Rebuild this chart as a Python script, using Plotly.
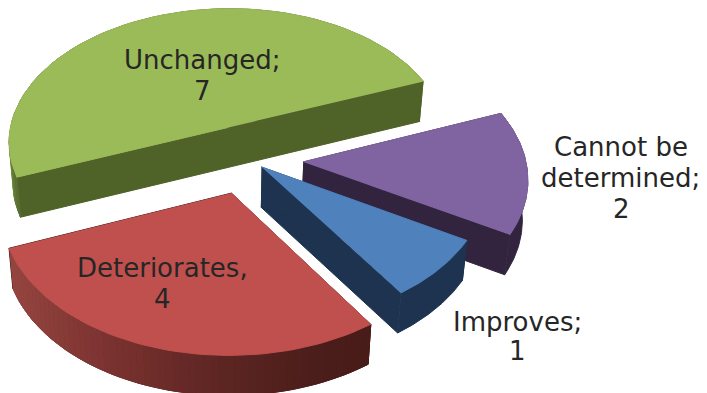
import numpy as np
import plotly.graph_objects as go

categories = ["Unchanged", "Deteriorates", "Improves", "Cannot be<br>determined"]
values = [7, 4, 1, 2]
separators = [";", ",", ";", ";"]
top_colors = ["#9BBB59", "#C0504D", "#4F81BD", "#8064A2"]
side_colors = ["#4F6228", "#4E1F1C", "#1D334F", "#32243F"]
explode = [0.2554, 0.2501, 0.0814, 0.2474]
label_pos = [((202, 60), (202, 91)), ((162, 268), (162, 299)), ((517, 322), (517, 351)),
             ((621, 147), (620, 178), (621, 209))]

# shading of the red slice's rim, left to right across the picture
rim_x = [10, 100, 200, 300, 370]
rim_r = [150, 125, 98, 78, 72]
rim_g = [70, 52, 40, 31, 28]
rim_b = [65, 50, 37, 28, 25]

# perspective view of the pie's top plane
U0, V0, A_X, S_X, B_Y, Q_Y, K_Y, L_X = 248.2434, 159.3798, 222.5766, -5.4099, 137.5314, 3.4246, 0.1052, 0.0037
DEPTH, XC, SC = 40, 220, 0.982
START = np.radians(20.0)

total = sum(values)
spans = [2*np.pi*v/total for v in values]
starts = [START + sum(spans[:i]) for i in range(len(values))]


def proj(X, Y):
    w = 1 + K_Y*Y + L_X*X
    return U0 + (A_X*X + S_X*Y)/w, V0 - (B_Y*Y + Q_Y*X)/w


def center(i):
    m = starts[i] + spans[i]/2
    return explode[i]*np.cos(m), explode[i]*np.sin(m)


def arc(i, n=60):
    t = np.linspace(starts[i], starts[i]+spans[i], n)
    cx, cy = center(i)
    return proj(cx+np.cos(t), cy+np.sin(t))


def lower(U, V):
    return XC+(np.asarray(U)-XC)*SC, np.asarray(V)+DEPTH


fig = go.Figure()


def poly(U, V, c):
    fig.add_trace(go.Scatter(x=list(U), y=list(V), mode="lines", fill="toself", fillcolor=c,
                             line=dict(color=c, width=1), hoverinfo="skip", showlegend=False))


for i in [0, 3, 2, 1]:
    U, V = arc(i)
    A = proj(*center(i))
    LU, LV = lower(U, V)
    if values[i]*2 == total:
        poly([U[0], U[-1], LU[-1], LU[0]], [V[0], V[-1], LV[-1], LV[0]], side_colors[i])
    else:
        for ex, ey in [(U[0], V[0]), (U[-1], V[-1])]:
            lx, ly = lower([A[0], ex], [A[1], ey])
            poly([A[0], ex, lx[1], lx[0]], [A[1], ey, ly[1], ly[0]], side_colors[i])
    poly(list(U)+list(LU[::-1]), list(V)+list(LV[::-1]), side_colors[i])
    if i == 1:
        for j in range(len(U)-1):
            xm = (U[j]+U[j+1])/2
            c = "rgb(%d,%d,%d)" % (np.interp(xm, rim_x, rim_r), np.interp(xm, rim_x, rim_g), np.interp(xm, rim_x, rim_b))
            poly([U[j], U[j+1], LU[j+1], LU[j]], [V[j], V[j+1], LV[j+1], LV[j]], c)
    if i == 0:
        for j in range(len(U)-9, len(U)-1):
            f = (len(U)-2-j)/7
            c = "rgb(%d,%d,%d)" % (90+45*f, 112+53*f, 50+25*f)
            poly([U[j], U[j+1], LU[j+1], LU[j]], [V[j], V[j+1], LV[j+1], LV[j]], c)
    poly(list(U)+[A[0]], list(V)+[A[1]], top_colors[i])

for cat, val, sep, pos in zip(categories, values, separators, label_pos):
    lines = (cat+sep).split("<br>") + [str(val)]
    for line, (x, y) in zip(lines, pos):
        fig.add_annotation(x=x, y=y, text=line, showarrow=False,
                           font=dict(family="DejaVu Sans", size=26, color="#262626"))

fig.update_layout(width=707, height=393, margin=dict(l=0, r=0, t=0, b=0), paper_bgcolor="white",
                  plot_bgcolor="white",
                  xaxis=dict(range=[0, 707], visible=False, fixedrange=True),
                  yaxis=dict(range=[393, 0], visible=False, fixedrange=True))
fig.write_html("out.html", config={"displayModeBar": False}, post_script="document.body.style.margin='0';")
